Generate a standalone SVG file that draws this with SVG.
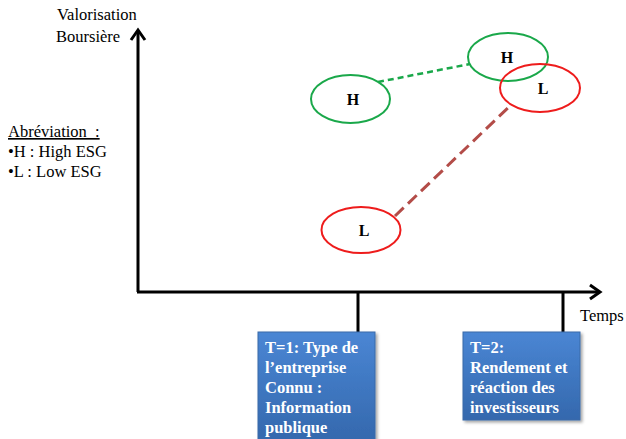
<svg xmlns="http://www.w3.org/2000/svg" width="626" height="439" viewBox="0 0 626 439">
<defs>
<linearGradient id="bg" x1="0" y1="0" x2="0" y2="1">
<stop offset="0" stop-color="#4a86d4"/>
<stop offset="1" stop-color="#3468ad"/>
</linearGradient>
<filter id="sh" x="-10%" y="-10%" width="130%" height="130%">
<feDropShadow dx="2" dy="2" stdDeviation="1.5" flood-color="#000" flood-opacity="0.35"/>
</filter>
</defs>
<style>
.t{font-family:"Liberation Serif","Times New Roman",serif;font-size:16.5px;fill:#000}
.b{font-family:"Liberation Serif","Times New Roman",serif;font-size:16.5px;font-weight:bold;fill:#fff}
.n{font-family:"Liberation Serif","Times New Roman",serif;font-size:16px;font-weight:bold;fill:#000;text-anchor:middle}
.ax{stroke:#000;stroke-width:3;fill:none}
.gE{fill:none;stroke:#1aa84a;stroke-width:2}
.rE{fill:none;stroke:#ee1c1c;stroke-width:2}
.box{fill:url(#bg);stroke:#3a6aa8;stroke-width:1;filter:url(#sh)}
</style>
<g id="axes">
<line class="ax" x1="138" y1="292" x2="138" y2="32"/>
<polyline class="ax" points="131,40 138,30 145,40"/>
<line class="ax" x1="137" y1="292" x2="598" y2="292"/>
<polyline class="ax" points="590,285 600,292 590,299"/>
<line class="ax" x1="358" y1="292" x2="358" y2="333"/>
<line class="ax" x1="563" y1="292" x2="563" y2="333"/>
</g>
<g id="connectors">
<line x1="378" y1="82" x2="470" y2="64" stroke="#1aa84a" stroke-width="2.5" stroke-dasharray="6,4"/>
<line x1="395" y1="216" x2="511" y2="105" stroke="#b34c48" stroke-width="3" stroke-dasharray="12,6"/>
</g>
<g id="labels">
<text class="t" x="57" y="20">Valorisation</text>
<text class="t" x="56" y="42">Boursière</text>
<text class="t" x="8" y="137" text-decoration="underline" xml:space="preserve" style="white-space:pre">Abréviation  :</text>
<text class="t" x="8" y="157">•H : High ESG</text>
<text class="t" x="8" y="177">•L : Low ESG</text>
<text class="t" x="580" y="321">Temps</text>
</g>
<g id="nodeH1"><ellipse class="gE" cx="350.5" cy="99" rx="39.5" ry="24"/><text class="n" x="353" y="105">H</text></g>
<g id="nodeH2"><ellipse class="gE" cx="508" cy="57" rx="40" ry="24"/><text class="n" x="507" y="63">H</text></g>
<g id="nodeL2"><ellipse class="rE" cx="540" cy="88" rx="40" ry="24"/><text class="n" x="543" y="94">L</text></g>
<g id="nodeL1"><ellipse class="rE" cx="361" cy="230" rx="39.5" ry="23" fill="#fff"/><text class="n" x="364" y="236">L</text></g>
<g id="boxT1">
<rect class="box" x="258" y="332" width="117" height="110"/>
<text class="b" x="265" y="353">T=1: Type de</text>
<text class="b" x="265" y="373">l’entreprise</text>
<text class="b" x="265" y="393">Connu :</text>
<text class="b" x="265" y="413">Information</text>
<text class="b" x="265" y="433">publique</text>
</g>
<g id="boxT2">
<rect class="box" x="463" y="332" width="117" height="88"/>
<text class="b" x="470" y="353">T=2:</text>
<text class="b" x="470" y="373">Rendement et</text>
<text class="b" x="470" y="393">réaction des</text>
<text class="b" x="470" y="413">investisseurs</text>
</g>
</svg>
